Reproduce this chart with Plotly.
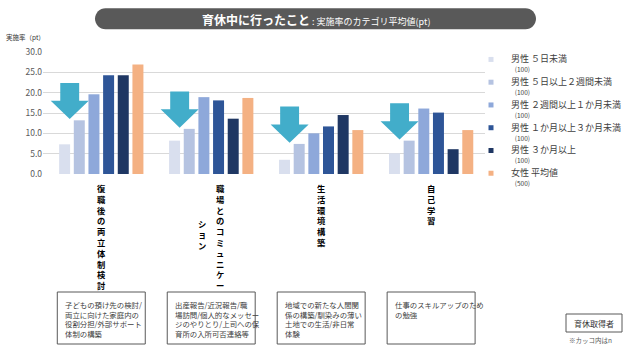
import plotly.graph_objects as go

# ---------------- data ----------------
categories = ["復職後の両立体制検討", "職場とのコミュニケーション", "生活環境構築", "自己学習"]
label_columns = [["復職後の両立体制検討"], ["職場とのコミュニケー", "ション"], ["生活環境構築"], ["自己学習"]]

series_names = ["男性 ５日未満", "男性 ５日以上２週間未満", "男性 ２週間以上１か月未満",
                "男性 １か月以上３か月未満", "男性 ３か月以上", "女性 平均値"]
series_n = ["(100)", "(100)", "(100)", "(100)", "(100)", "(500)"]

m_lt5d = [7.3, 8.2, 3.5, 5.1]
m_5d_2w = [13.2, 11.1, 7.4, 8.2]
m_2w_1m = [19.6, 18.9, 10.0, 16.1]
m_1m_3m = [24.3, 18.1, 11.7, 15.1]
m_3m_up = [24.3, 13.6, 14.5, 6.1]
f_avg = [26.9, 18.7, 10.8, 10.8]
series_values = [m_lt5d, m_5d_2w, m_2w_1m, m_1m_3m, m_3m_up, f_avg]

descriptions = [
    ["子どもの預け先の検討/", "両立に向けた家庭内の", "役割分担/外部サポート", "体制の構築"],
    ["出産報告/近況報告/職", "場訪問/個人的なメッセー", "ジのやりとり/上司への保", "育所の入所可否連絡等"],
    ["地域での新たな人間関", "係の構築/馴染みの薄い", "土地での生活/非日常", "体験"],
    ["仕事のスキルアップのため", "の勉強"],
]

y_ticks = [0, 5, 10, 15, 20, 25, 30]
title_main = "育休中に行ったこと"
title_sub = " : 実施率のカテゴリ平均値(pt)"
y_title = "実施率（pt）"
box_note = "育休取得者"
foot_note = "※カッコ内はn"

# ---------------- styles ----------------
colors = ["#D9DFEE", "#B5C3E1", "#8EA8DA", "#2E5597", "#1F3763", "#F4B183"]
arrow_color = "#42ADCA"
FONT = "Noto Sans CJK JP"
W, H = 631, 352
L, R, T, B = 43, 485, 52, 174


def px(x):
    return (x - L) / (R - L)


def py(y):
    return (B - y) / (B - T)


fig = go.Figure()

for name, vals, col in zip(series_names, series_values, colors):
    fig.add_trace(go.Bar(x=categories, y=vals, name=name, marker_color=col,
                         marker_line_width=0, showlegend=False, legendgroup=name))

# legend entries with small square symbols
for name, n, col in zip(series_names, series_n, colors):
    fig.add_trace(go.Scatter(
        x=[None], y=[None], mode="markers",
        marker=dict(symbol="square", size=5, color=col),
        name=f"<span style='font-size:9px'>{name}</span><br>\u2002<span style='font-size:6.5px'>{n}</span>",
        legendgroup=name, showlegend=True))

shapes = []
annotations = []

# arrows (positioned relative to the second series value)
for i, v in enumerate(m_5d_2w):
    xc = i - 0.287
    tip = v + 0.3
    hs = tip + 4.5
    top = tip + 8.9
    sw, hw = 0.086, 0.173
    path = (f"M{xc - sw},{top} L{xc + sw},{top} L{xc + sw},{hs} L{xc + hw},{hs} "
            f"L{xc},{tip} L{xc - hw},{hs} L{xc - sw},{hs} Z")
    shapes.append(dict(type="path", xref="x", yref="y", path=path,
                       fillcolor=arrow_color, line=dict(width=0), layer="above"))

# title banner (pill)
x0, x1, y0, y1, r = 95, 536, 8.3, 29.3, 10.5
k = 0.5523 * r
pts = [("M", [(x0 + r, y0)]), ("L", [(x1 - r, y0)]),
       ("C", [(x1 - r + k, y0), (x1, y0 + r - k), (x1, y0 + r)]),
       ("C", [(x1, y0 + r + k), (x1 - r + k, y1), (x1 - r, y1)]),
       ("L", [(x0 + r, y1)]),
       ("C", [(x0 + r - k, y1), (x0, y1 - r + k), (x0, y1 - r)]),
       ("C", [(x0, y1 - r - k), (x0 + r - k, y0), (x0 + r, y0)])]
path = " ".join(cmd + " ".join(f"{px(a):.5f},{py(b):.5f}" for a, b in p) for cmd, p in pts) + " Z"
shapes.append(dict(type="path", xref="paper", yref="paper", path=path,
                   fillcolor="#595959", line=dict(width=0), layer="above"))
annotations.append(dict(xref="paper", yref="paper", x=px(316), y=py(19), xanchor="center", yanchor="middle",
                        showarrow=False,
                        text=f"<b>{title_main}</b><span style='font-size:9px'>{title_sub}</span>",
                        font=dict(family=FONT, size=12, color="white")))

# y axis title
annotations.append(dict(xref="paper", yref="paper", x=px(4), y=py(36.5), xanchor="left", yanchor="middle",
                        showarrow=False, text=y_title, font=dict(family=FONT, size=6.5, color="#333333")))

# vertical category labels (one character per line, columns right to left)
lab_size = 8.3
pitch = lab_size * 1.3
top_y = 179.5
for i, cols in enumerate(label_columns):
    n_cols = len(cols)
    main_center = top_y + len(cols[0]) * pitch / 2 + 1
    for c, col_text in enumerate(cols):
        xshift = 0 if n_cols == 1 else (9 if c == 0 else -9)
        common = dict(xref="x", yref="paper", x=i, xanchor="center", xshift=xshift, showarrow=False,
                      text="<br>".join(col_text),
                      font=dict(family=FONT, size=lab_size, color="#000000", weight="bold"))
        if c == 0:
            annotations.append(dict(y=py(top_y), yanchor="top", **common))
        else:
            annotations.append(dict(y=py(main_center), yanchor="middle", **common))

# description boxes
for i, lines in enumerate(descriptions):
    shapes.append(dict(type="rect", xref="x", yref="paper", x0=i - 0.4, x1=i + 0.4,
                       y0=py(292), y1=py(344), line=dict(color="#595959", width=1),
                       fillcolor="white", layer="above"))
    annotations.append(dict(xref="x", yref="paper", x=i - 0.4, xshift=6, y=py(296.5),
                            xanchor="left", yanchor="top", align="left", showarrow=False,
                            text="<br>".join(lines),
                            font=dict(family=FONT, size=7.4, color="#404040")))

# note box
shapes.append(dict(type="rect", xref="paper", yref="paper", x0=px(566), x1=px(622), y0=py(314), y1=py(332),
                   line=dict(color="#595959", width=1), fillcolor="white", layer="above"))
annotations.append(dict(xref="paper", yref="paper", x=px(594), y=py(323), xanchor="center", yanchor="middle",
                        showarrow=False, text=box_note, font=dict(family=FONT, size=8, color="#333333")))
annotations.append(dict(xref="paper", yref="paper", x=px(567), y=py(339.5), xanchor="left", yanchor="middle",
                        showarrow=False, text=foot_note, font=dict(family=FONT, size=6.5, color="#595959")))

fig.update_layout(
    width=W, height=H,
    margin=dict(l=L, r=W - R, t=T, b=H - B, autoexpand=False),
    paper_bgcolor="white", plot_bgcolor="white",
    font=dict(family=FONT, color="#404040"),
    barmode="group", bargap=0.2, bargroupgap=0.25,
    shapes=shapes, annotations=annotations,
    legend=dict(x=px(471), y=py(48), xanchor="left", yanchor="top", valign="top",
                font=dict(family=FONT, size=7.6, color="#404040"), maxheight=300,
                bgcolor="rgba(0,0,0,0)", itemclick=False, tracegroupgap=0),
    xaxis=dict(range=[-0.53, 3.49], showticklabels=False, ticks="", showline=False,
               showgrid=False, zeroline=False, fixedrange=True),
    yaxis=dict(range=[0, 30], tickvals=y_ticks, tickformat=".1f", ticks="", showline=False,
               gridcolor="#D9D9D9", gridwidth=1, zeroline=False,
               tickfont=dict(family=FONT, size=8.5, color="#595959"), fixedrange=True),
)

fig.write_html("out.html")
